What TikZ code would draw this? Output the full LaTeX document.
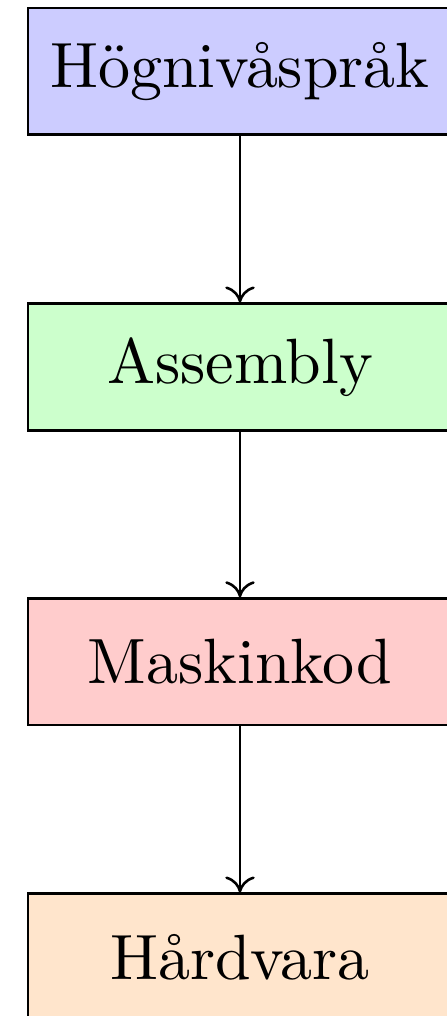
\documentclass[tikz,border=0pt]{standalone}
\usetikzlibrary{arrows.meta}
\begin{document}
\begin{tikzpicture}[
  layer/.style={draw, line width=0.4pt, minimum width=66.25pt, minimum height=19.77pt, inner sep=3.33pt},
  link/.style={-{Computer Modern Rightarrow[length=2.5pt, width=4.6pt]}, line width=0.4pt}
]
\useasboundingbox (0pt,0pt) rectangle (69.69pt,-158.75pt);
\node[layer, fill=blue!20]   (hll) at (37.5pt,-11.13pt)  {Högnivåspråk};
\node[layer, fill=green!20]  (asm) at (37.5pt,-57.34pt)  {Assembly};
\node[layer, fill=red!20]    (mc)  at (37.5pt,-103.41pt) {Maskinkod};
\node[layer, fill=orange!20] (hw)  at (37.5pt,-149.53pt) {Hårdvara};
\draw[link] (hll) -- (asm);
\draw[link] (asm) -- (mc);
\draw[link] (mc) -- (hw);
\end{tikzpicture}
\end{document}
